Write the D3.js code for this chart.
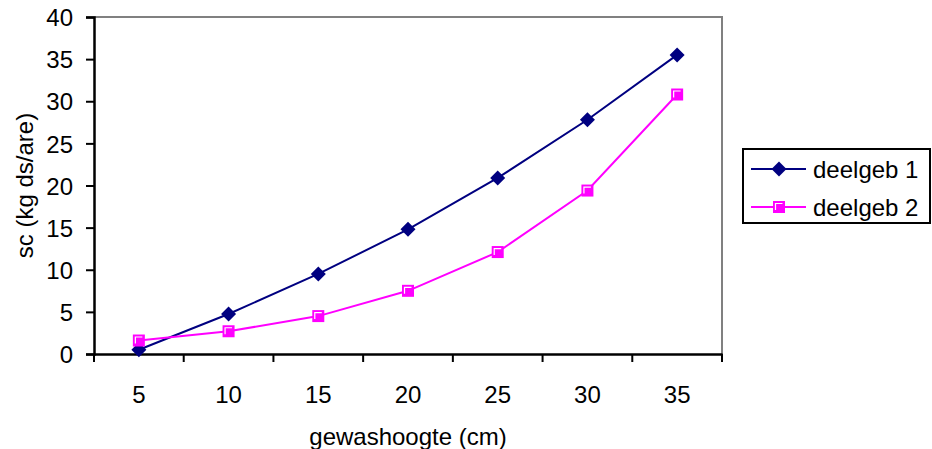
<!DOCTYPE html>
<html>
<head>
  <meta charset="utf-8">
  <script src="https://d3js.org/d3.v7.min.js"></script>
  <style>
    body { margin: 0; background: #fff; }
    text { font-family: "Liberation Sans", Arial, sans-serif; fill: #000; }
  </style>
</head>
<body>
<script>
  "use strict";

  var categories = ["5", "10", "15", "20", "25", "30", "35"];
  var deelgeb1 = [0.5, 4.75, 9.5, 14.8, 20.9, 27.8, 35.5];
  var deelgeb2 = [1.6, 2.7, 4.5, 7.5, 12.1, 19.4, 30.8];
  var yTicks = [0, 5, 10, 15, 20, 25, 30, 35, 40];
  var seriesNames = ["deelgeb 1", "deelgeb 2"];

  function draw() {
    var width = 932, height = 449;
    var left = 94, right = 722, top = 17, bottom = 354;
    var fs = "24px";

    var svg = d3.select("body").append("svg")
        .attr("width", width)
        .attr("height", height);

    var x = d3.scaleBand().domain(categories).range([left, right]);
    var y = d3.scaleLinear().domain([0, 40]).range([bottom, top]);

    // plot frame (top/right grey)
    svg.append("path")
        .attr("d", "M" + left + "," + top + "H" + right + "V" + bottom)
        .attr("fill", "none")
        .attr("stroke", "#808080")
        .attr("stroke-width", 2);

    var yAxis = svg.append("g")
        .attr("transform", "translate(" + left + ",0)")
        .call(d3.axisLeft(y).tickValues(yTicks).tickSize(8).tickPadding(13));

    var xAxis = svg.append("g")
        .attr("transform", "translate(0," + bottom + ")")
        .call(d3.axisBottom(x).tickSize(0).tickPadding(32));

    [yAxis, xAxis].forEach(function(g) {
      g.select(".domain").attr("stroke", "#000").attr("stroke-width", 2.5);
      g.selectAll(".tick line").attr("stroke", "#000").attr("stroke-width", 2);
      g.selectAll("text").style("font-size", fs).attr("fill", "#000")
        .style("font-family", "'Liberation Sans', Arial, sans-serif");
    });
    yAxis.selectAll("text").attr("dy", "0.36em");

    // tick marks between categories
    var bounds = categories.map(function(c) { return x(c); }).concat([right]);
    svg.selectAll(".xtick").data(bounds).enter().append("line")
        .attr("x1", function(d) { return d; })
        .attr("x2", function(d) { return d; })
        .attr("y1", bottom)
        .attr("y2", bottom + 8)
        .attr("stroke", "#000")
        .attr("stroke-width", 2);

    var cx = function(d, i) { return x(categories[i]) + x.bandwidth() / 2; };

    var line = d3.line()
        .x(function(d, i) { return x(categories[i]) + x.bandwidth() / 2; })
        .y(function(d) { return y(d); });

    function diamond(g, px, py) {
      g.append("path")
        .attr("d", "M" + px + "," + (py - 7.5) + "L" + (px + 7.5) + "," + py +
                   "L" + px + "," + (py + 7.5) + "L" + (px - 7.5) + "," + py + "Z")
        .attr("fill", "#000080");
    }

    function square(g, px, py) {
      g.append("rect")
        .attr("x", px - 6).attr("y", py - 6)
        .attr("width", 12).attr("height", 12)
        .attr("fill", "#ff00ff");
      g.append("path")
        .attr("d", "M" + (px - 3.5) + "," + (py + 3) + "V" + (py - 3.5) + "H" + (px + 3.5))
        .attr("fill", "none")
        .attr("stroke", "#fff")
        .attr("stroke-width", 1.2);
    }

    // series lines
    svg.append("path").datum(deelgeb1)
        .attr("d", line)
        .attr("fill", "none")
        .attr("stroke", "#000080")
        .attr("stroke-width", 2);
    svg.append("path").datum(deelgeb2)
        .attr("d", line)
        .attr("fill", "none")
        .attr("stroke", "#ff00ff")
        .attr("stroke-width", 2);

    var m1 = svg.append("g");
    deelgeb1.forEach(function(d, i) { diamond(m1, cx(d, i), y(d)); });
    var m2 = svg.append("g");
    deelgeb2.forEach(function(d, i) { square(m2, cx(d, i), y(d)); });

    // axis titles
    svg.append("text")
        .attr("x", (left + right) / 2)
        .attr("y", 445)
        .attr("text-anchor", "middle")
        .style("font-size", fs)
        .text("gewashoogte (cm)");

    svg.append("text")
        .attr("transform", "translate(33," + ((top + bottom) / 2) + ") rotate(-90)")
        .attr("text-anchor", "middle")
        .style("font-size", fs)
        .text("sc (kg ds/are)");

    // legend
    var lg = svg.append("g");
    lg.append("rect")
        .attr("x", 743).attr("y", 149)
        .attr("width", 187).attr("height", 74)
        .attr("fill", "#fff")
        .attr("stroke", "#000")
        .attr("stroke-width", 2);
    var rows = [169, 207];
    seriesNames.forEach(function(name, i) {
      lg.append("line")
        .attr("x1", 751).attr("x2", 806)
        .attr("y1", rows[i]).attr("y2", rows[i])
        .attr("stroke", i === 0 ? "#000080" : "#ff00ff")
        .attr("stroke-width", 2);
      if (i === 0) diamond(lg, 779, rows[i]); else square(lg, 779, rows[i]);
      lg.append("text")
        .attr("x", 813).attr("y", rows[i])
        .attr("dy", "0.36em")
        .style("font-size", fs)
        .text(name);
    });
  }

  draw();
</script>
</body>
</html>
